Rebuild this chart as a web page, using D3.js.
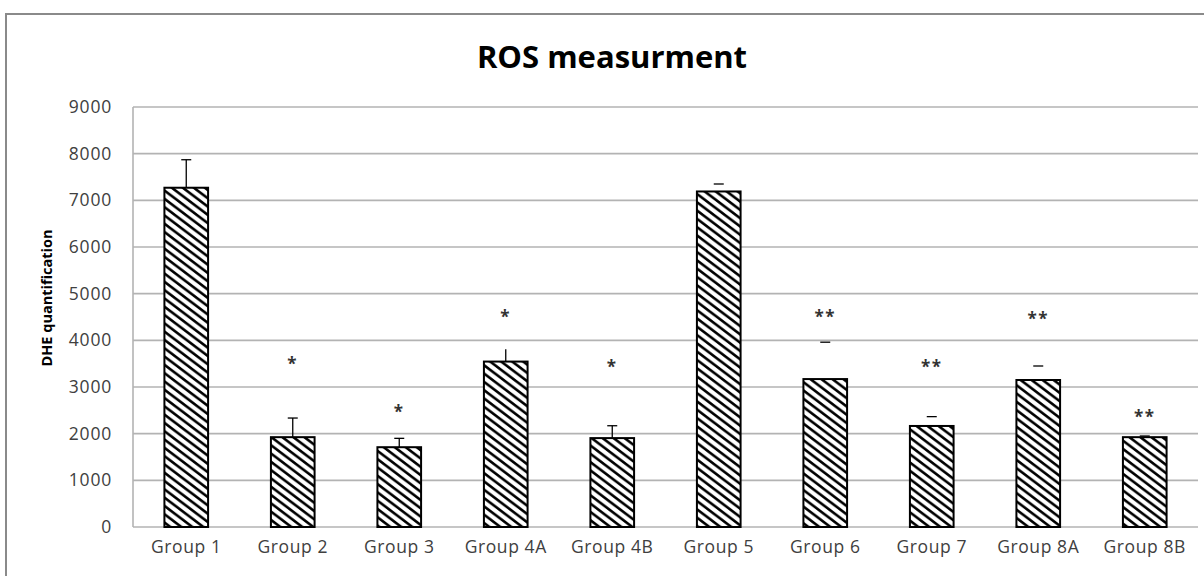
<!DOCTYPE html>
<html><head><meta charset="utf-8">
<script src="https://cdn.jsdelivr.net/npm/d3@7"></script>
<style>body{margin:0;background:#fff}svg{display:block}</style>
</head><body>
<svg id="chart" width="1204" height="576"></svg>
<script>
const categories = ["Group 1","Group 2","Group 3","Group 4A","Group 4B","Group 5","Group 6","Group 7","Group 8A","Group 8B"];
const values     = [7270, 1925, 1710, 3545, 1905, 7190, 3170, 2165, 3150, 1925];
const errorTops  = [7870, 2335, 1900, 3810, 2170, 7350, 3960, 2365, 3450, 1950];
const sigLabels  = ["", "*", "*", "*", "*", "", "**", "**", "**", "**"];
const sigLevels  = [0, 3580, 2560, 4590, 3520, 0, 4590, 3520, 4545, 2440];
const yTicks     = [0,1000,2000,3000,4000,5000,6000,7000,8000,9000];
const title = "ROS measurment";
const yTitle = "DHE quantification";

const svg = d3.select("#chart");
const L = 133, R = 1198, T = 107, B = 527;

// outer frame
svg.append("rect").attr("x",6).attr("y",14).attr("width",1220).attr("height",620)
  .attr("fill","none").attr("stroke","#8a8a8a").attr("stroke-width",2);

// hatch pattern
const pw = 11, ph = 8.3;
const defs = svg.append("defs");
const pat = defs.append("pattern").attr("id","hatch").attr("patternUnits","userSpaceOnUse")
  .attr("width",pw).attr("height",ph);
pat.append("rect").attr("width",pw).attr("height",ph).attr("fill","#fff");
pat.append("path")
  .attr("d",`M${-pw},${-ph}L${2*pw},${2*ph}M0,${-ph}L${2*pw},${ph}M${-pw},0L${pw},${2*ph}`)
  .attr("stroke","#000").attr("stroke-width",2.6);

const x = d3.scaleBand().domain(categories).range([L,R]).paddingInner(0.59).paddingOuter(0.295);
const y = d3.scaleLinear().domain([0,9000]).range([B,T]);

// gridlines
svg.append("g").selectAll("line").data(yTicks).join("line")
  .attr("x1",L).attr("x2",R).attr("y1",d=>y(d)).attr("y2",d=>y(d))
  .attr("stroke","#b3b3b3").attr("stroke-width",1.6);
// left axis line
svg.append("line").attr("x1",L).attr("x2",L).attr("y1",T).attr("y2",B)
  .attr("stroke","#b3b3b3").attr("stroke-width",1.6);

// y axis labels
const yAxis = d3.axisLeft(y).tickValues(yTicks).tickFormat(d3.format("d")).tickSize(0).tickPadding(21);
const gy = svg.append("g").attr("transform",`translate(${L},0)`).call(yAxis);
gy.select(".domain").remove();
gy.selectAll("text").attr("font-family","'Open Sans', sans-serif").attr("font-size",17.5)
  .attr("fill","#404040").attr("letter-spacing",0.8);

// x axis labels
const xAxis = d3.axisBottom(x).tickSize(0).tickPadding(14);
const gx = svg.append("g").attr("transform",`translate(0,${B})`).call(xAxis);
gx.select(".domain").remove();
gx.selectAll("text").attr("font-family","'Open Sans', sans-serif").attr("font-size",17.5)
  .attr("fill","#404040").attr("letter-spacing",0.6);

// bars
svg.append("g").selectAll("rect").data(categories).join("rect")
  .attr("x",d=>x(d)).attr("width",x.bandwidth())
  .attr("y",(d,i)=>y(values[i])).attr("height",(d,i)=>y(0)-y(values[i]))
  .attr("fill","url(#hatch)").attr("stroke","#000").attr("stroke-width",2);

// error bars
const eg = svg.append("g").attr("stroke","#000").attr("stroke-width",1.3);
categories.forEach((c,i)=>{
  const cx = x(c)+x.bandwidth()/2;
  if (i < 5) eg.append("line").attr("x1",cx).attr("x2",cx).attr("y1",y(values[i])).attr("y2",y(errorTops[i]));
  if (i !== 3) eg.append("line").attr("x1",cx-5).attr("x2",cx+5).attr("y1",y(errorTops[i])).attr("y2",y(errorTops[i]));
});

// significance marks
svg.append("g").selectAll("text").data(categories).join("text")
  .attr("x",d=>x(d)+x.bandwidth()/2)
  .attr("y",(d,i)=>y(sigLevels[i])+10)
  .attr("text-anchor","middle").attr("font-family","'Open Sans', sans-serif")
  .attr("font-size",17).attr("font-weight","bold").attr("fill","#333")
  .attr("letter-spacing",1.5)
  .text((d,i)=>sigLabels[i]);

// title
svg.append("text").attr("x",612).attr("y",68).attr("text-anchor","middle")
  .attr("font-family","'Open Sans', sans-serif").attr("font-weight","bold").attr("font-size",31)
  .attr("fill","#000").text(title);

// y title
svg.append("text").attr("transform","translate(52,298) rotate(-90)").attr("text-anchor","middle")
  .attr("font-family","'Open Sans', sans-serif").attr("font-weight","bold").attr("font-size",14.5)
  .attr("fill","#000").text(yTitle);
</script>
</body></html>
